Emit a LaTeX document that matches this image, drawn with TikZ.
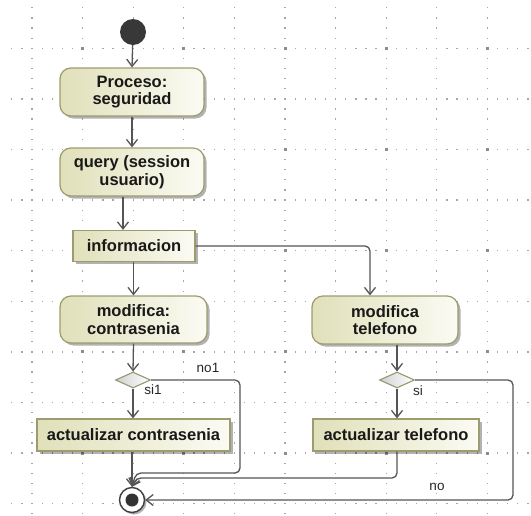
\documentclass[tikz,border=0pt]{standalone}
\usepackage{fontspec}
\setmainfont{Liberation Sans}
\usetikzlibrary{arrows.meta,shadows,calc,shapes.geometric}
\definecolor{boxl}{HTML}{E0E0BA}
\definecolor{boxr}{HTML}{FBFBF4}
\definecolor{boxb}{HTML}{9C9C6E}
\definecolor{ln}{HTML}{555555}
\definecolor{griddot}{HTML}{A6A6A6}
\tikzset{
  boxbase/.style={draw=boxb, line width=1.2pt, left color=boxl, right color=boxr,
    drop shadow={shadow xshift=2.5pt, shadow yshift=-2.5pt, opacity=0.3, fill=black},
    font=\fontsize{16.5}{17.5}\selectfont\bfseries, align=center, inner sep=0pt, text=black!90},
  actbox/.style={boxbase, rounded corners=11pt},
  plainbox/.style={boxbase, rounded corners=0pt},
  decis/.style={diamond, draw=boxb!80!gray, line width=1.1pt, left color=black!18, right color=white,
    minimum width=35pt, minimum height=16pt, inner sep=0pt},
  flow/.style={draw=ln, line width=1.3pt, -{Straight Barb[length=7pt,width=11pt,line width=1.3pt]}},
  lbl/.style={font=\fontsize{13.5}{14}\selectfont, text=black!85, inner sep=0pt},
}
\begin{document}
\begin{tikzpicture}[x=1pt,y=-1pt]
\useasboundingbox (0,0) rectangle (531,515);
% grid
\foreach \k in {0,...,9}{
  \pgfmathsetmacro\yy{48.3+50.6*\k}
  \foreach \j in {0,...,51}{
    \fill[griddot] ({11.8+10.12*\j-0.65},{\yy-0.65}) rectangle ++(1.3,1.3);
  }
  \pgfmathsetmacro\xx{32+50.6*\k}
  \foreach \j in {0,...,50}{
    \fill[griddot] ({\xx-0.65},{7.8+10.12*\j-0.65}) rectangle ++(1.3,1.3);
  }
}
\foreach \a in {82.6,183.8,285,386.2,487.4}{
  \foreach \b in {48.3,149.5,250.7,351.9,453.1}{
    \fill[black!45] (\a-1.5,\b-1.5) rectangle ++(3,3);
  }
}
% nodes
\node[circle, fill=black!78, minimum size=26pt, inner sep=0pt] (init) at (133,32) {};
\node[actbox, minimum width=144pt, minimum height=48pt] (p1) at (132,92) {Proceso:\\seguridad};
\node[actbox, minimum width=144pt, minimum height=48pt] (p2) at (132,172) {query (session\\usuario)};
\node[plainbox, minimum width=122pt, minimum height=31pt] (info) at (134,246) {informacion};
\node[actbox, minimum width=147pt, minimum height=47pt] (mc) at (133.5,319.5) {modifica:\\contrasenia};
\node[actbox, minimum width=146pt, minimum height=48pt] (mt) at (385,320) {modifica\\telefono};
\node[decis] (d1) at (133,380) {};
\node[decis] (d2) at (397,380) {};
\node[plainbox, minimum width=193pt, minimum height=32pt] (ac) at (133.5,435) {actualizar contrasenia};
\node[plainbox, minimum width=166pt, minimum height=32pt] (at) at (396,435) {actualizar telefono};
\node[circle, draw=black!75, line width=1.4pt, fill=white, minimum size=25pt, inner sep=0pt,
  drop shadow={shadow xshift=2pt, shadow yshift=-2pt, opacity=0.3, fill=black},
  path picture={\fill[black!80] (path picture bounding box.center) circle (6.5pt);}] (fin) at (132,500) {};
% labels
\node[lbl] (lno1) at (208,368) {no1};
\node[lbl] (lsi1) at (153,390) {si1};
\node[lbl] (lsi) at (418,391) {si};
\node[lbl] (lno) at (437,487) {no};
% helper coordinates
\coordinate (k1) at (240,473);
\coordinate (k1b) at (136,473);
\coordinate (k2) at (136,478);
\coordinate (k3) at (513,500);
% connectors
\draw[flow] (init) -- (p1.north);
\draw[flow] (p1.south) -- (p2.north);
\draw[flow] ([xshift=-9pt]p2.south) -- ([xshift=-11pt]info.north);
\draw[flow] (info.south -| mc.north) -- (mc.north);
\draw[flow, rounded corners=5pt] (info.east) -| ([xshift=-15pt]mt.north);
\draw[flow] (mc.south) -- (d1.north);
\draw[flow] ([xshift=12pt]mt.south) -- (d2.north);
\draw[flow] (d1.south) -- (ac.north -| d1.south);
\draw[flow] (d2.south) -- (at.north -| d2.south);
\draw[flow] (ac.south -| fin.north) -- (fin.north);
\draw[flow, rounded corners=5pt] (d1.east) -| (k1) -- (k1b) -- (fin.north);
\draw[flow, rounded corners=5pt] (at.south -| d2.south) |- (k2) -- (fin.north);
\draw[flow, rounded corners=5pt] (d2.east) -| (k3) -- (fin.east);
\end{tikzpicture}
\end{document}
